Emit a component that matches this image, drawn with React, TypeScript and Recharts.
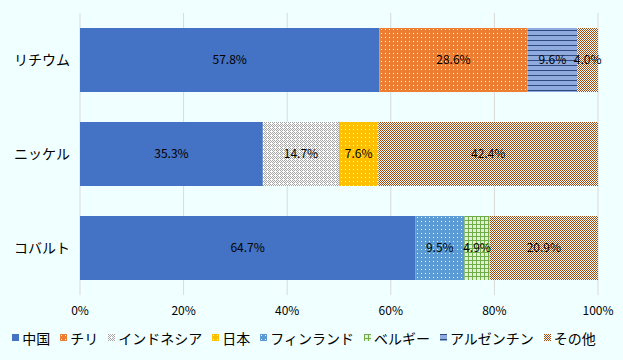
import React from 'react';
import { BarChart, Bar, XAxis, YAxis, CartesianGrid, Legend, LabelList } from 'recharts';

const categories = ['リチウム', 'ニッケル', 'コバルト'];
const seriesNames = ['中国', 'チリ', 'インドネシア', '日本', 'フィンランド', 'ベルギー', 'アルゼンチン', 'その他'];
const china = [57.8, 35.3, 64.7];
const chile = [28.6, null, null];
const indonesia = [null, 14.7, null];
const japan = [null, 7.6, null];
const finland = [null, null, 9.5];
const belgium = [null, null, 4.9];
const argentina = [9.6, null, null];
const others = [4.0, 42.4, 20.9];
const xTicks = [0, 20, 40, 60, 80, 100];

const seriesValues = [china, chile, indonesia, japan, finland, belgium, argentina, others];
const fills = ['#4472C4', 'url(#pChile)', 'url(#pIndo)', 'url(#pJapan)', 'url(#pFin)', 'url(#pBel)', 'url(#pArg)', 'url(#pOther)'];

const data = categories.map((c, i) => {
  const row: any = { name: c };
  seriesValues.forEach((s, k) => { row['s' + k] = s[i]; });
  return row;
});

const FONT = '"Noto Sans CJK JP", "Noto Sans", sans-serif';

const Patterns = () => (
  <svg width={0} height={0} style={{ position: 'absolute' }}>
    <defs>
      <pattern id="pChile" width={4} height={4} patternUnits="userSpaceOnUse">
        <rect width={4} height={4} fill="#ED7D31" />
        <rect x={1} y={1} width={1} height={1} fill="#ffffff" />
      </pattern>
      <pattern id="pIndo" width={4} height={4} patternUnits="userSpaceOnUse">
        <rect width={4} height={4} fill="#ffffff" />
        <rect x={0} y={0} width={1} height={1} fill="#A5A5A5" />
        <rect x={2} y={0} width={1} height={1} fill="#A5A5A5" />
        <rect x={1} y={1} width={1} height={1} fill="#A5A5A5" />
        <rect x={3} y={1} width={1} height={1} fill="#A5A5A5" />
        <rect x={0} y={2} width={1} height={1} fill="#A5A5A5" />
        <rect x={2} y={2} width={1} height={1} fill="#A5A5A5" />
        <rect x={1} y={3} width={1} height={1} fill="#A5A5A5" />
      </pattern>
      <pattern id="pJapan" width={4} height={4} patternUnits="userSpaceOnUse">
        <rect width={4} height={4} fill="#FFC000" />
        <rect x={1} y={1} width={1} height={1} fill="#ffffff" />
      </pattern>
      <pattern id="pFin" width={4} height={4} patternUnits="userSpaceOnUse">
        <rect width={4} height={4} fill="#5B9BD5" />
        <rect x={1} y={1} width={1} height={1} fill="#ffffff" />
      </pattern>
      <pattern id="pBel" width={4} height={4} patternUnits="userSpaceOnUse">
        <rect width={4} height={4} fill="#E2F0D9" />
        <rect x={0} y={0} width={4} height={1} fill="#70AD47" />
        <rect x={0} y={0} width={1} height={4} fill="#70AD47" />
      </pattern>
      <pattern id="pArg" width={5} height={5} patternUnits="userSpaceOnUse">
        <rect width={5} height={5} fill="#8FAADC" />
        <rect x={0} y={0} width={5} height={1} fill="#2F4A80" />
      </pattern>
      <pattern id="pOther" width={2} height={2} patternUnits="userSpaceOnUse">
        <rect width={2} height={2} fill="#ffffff" />
        <rect x={0} y={0} width={1} height={1} fill="#9E480E" />
        <rect x={1} y={1} width={1} height={1} fill="#9E480E" />
      </pattern>
    </defs>
  </svg>
);

const LegendContent = () => (
  <div style={{ display: 'flex', justifyContent: 'center', alignItems: 'center', height: 35, paddingLeft: 10, boxSizing: 'border-box', fontFamily: FONT, fontSize: 14, color: '#000', whiteSpace: 'nowrap' }}>
    {seriesNames.map((n, i) => (
      <div key={n} style={{ display: 'flex', alignItems: 'center', marginRight: i < seriesNames.length - 1 ? 10 : 0 }}>
        <svg width={7} height={7} style={{ marginRight: 3 }}>
          <rect width={7} height={7} fill={fills[i]} />
        </svg>
        <span>{n}</span>
      </div>
    ))}
  </div>
);

const fmt = (v: any) => (v === null || v === undefined || v === 0 ? '' : Number(v).toFixed(1) + '%');

export default function App() {
  return (
    <div style={{ position: 'absolute', left: 0, top: 0, width: 623, height: 360, background: '#F0FFFF' }}>
      <Patterns />
      <BarChart
        width={623}
        height={360}
        data={data}
        layout="vertical"
        margin={{ top: 13, right: 25, bottom: 5, left: 0 }}
        barSize={64}
      >
        <CartesianGrid horizontal={false} vertical={true} stroke="#D9D9D9" />
        <XAxis
          type="number"
          domain={[0, 100]}
          ticks={xTicks}
          tickFormatter={(v: number) => v + '%'}
          axisLine={false}
          tickLine={false}
          height={25}
          tickMargin={5}
          tick={{ fontSize: 12, fill: '#000', fontFamily: FONT }}
        />
        <YAxis
          type="category"
          dataKey="name"
          width={80}
          axisLine={false}
          tickLine={false}
          tickMargin={4}
          tick={{ fontSize: 14, fill: '#000', fontFamily: FONT }}
        />
        {seriesValues.map((_, k) => (
          <Bar key={k} dataKey={'s' + k} name={seriesNames[k]} stackId="a" fill={fills[k]} isAnimationActive={false}>
            <LabelList dataKey={'s' + k} position="center" formatter={fmt} style={{ fontSize: 12, fill: '#000', fontFamily: FONT }} />
          </Bar>
        ))}
        <Legend verticalAlign="bottom" content={<LegendContent />} wrapperStyle={{ height: 35 }} />
      </BarChart>
    </div>
  );
}
